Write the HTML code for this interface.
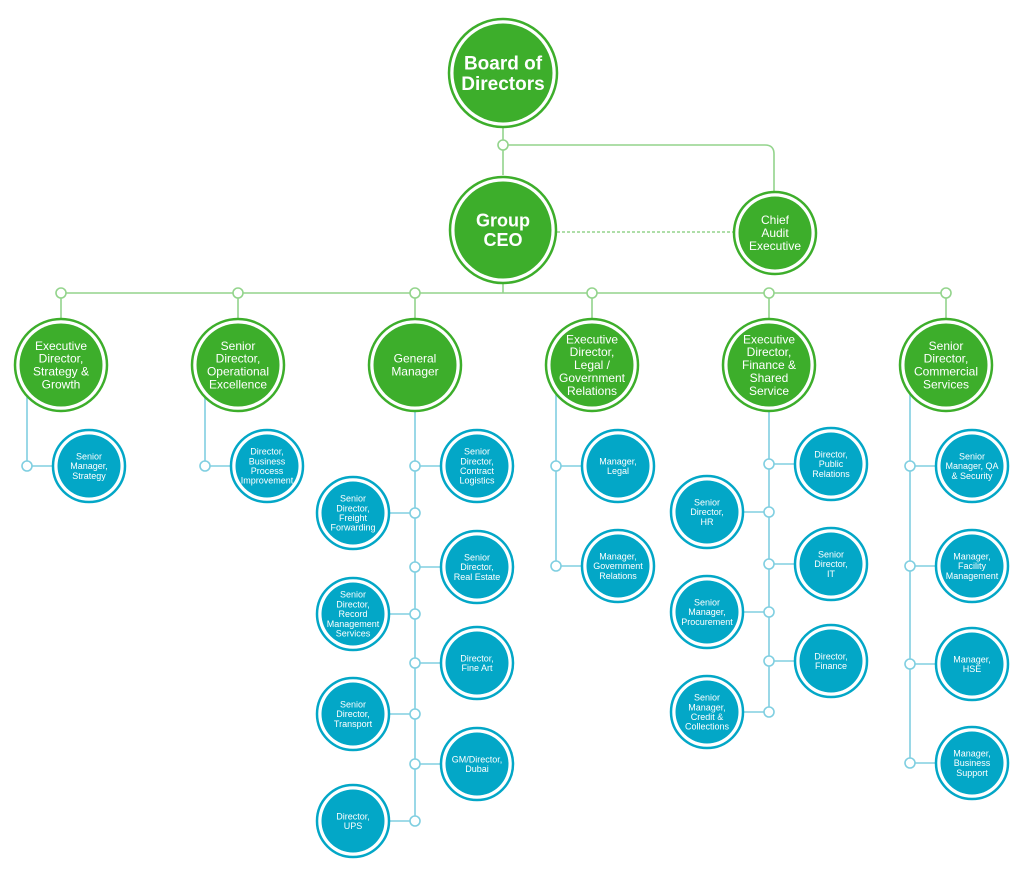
<!DOCTYPE html>
<html><head><meta charset="utf-8"><style>
html,body{margin:0;padding:0;background:#fff;}
svg{display:block;font-family:"Liberation Sans",sans-serif;}
</style></head><body>
<svg id="chart" width="1024" height="876" viewBox="0 0 1024 876"></svg>
<script>
const G='#3dae2b', B='#03a7c7', GL='#93d48c', BL='#80cfe1';
const svg=document.getElementById('chart');
const NS='http://www.w3.org/2000/svg';
function el(t,a,p){const e=document.createElementNS(NS,t);for(const k in a)e.setAttribute(k,a[k]);(p||svg).appendChild(e);return e;}
function line(d,c,dash){const e=el('path',{d:d,stroke:c,'stroke-width':1.6,fill:'none'});if(dash)e.setAttribute('stroke-dasharray','3 2');}
function dot(x,y,c){const e=el('circle',{cx:x,cy:y,r:5,fill:'#fff',stroke:c,'stroke-width':1.6});}
function node(x,y,r,col,lines,fs,name,bold){
  const g=el('g',{});
  
  
  el('circle',{cx:x,cy:y,r:r,fill:'#fff',stroke:col,'stroke-width':2.5},g);
  el('circle',{cx:x,cy:y,r:r-4.5,fill:col},g);
  const lh=fs*1.08, y0=y-(lines.length-1)*lh/2+fs*0.35;
  lines.forEach((t,i)=>{const tx=el('text',{x:x,y:y0+i*lh,'text-anchor':'middle',fill:'#fff','font-size':fs,'font-weight':bold?'bold':'normal'},g);tx.textContent=t;});
}
// top
line('M503 127 V175',GL);
line('M508 145 H765 Q774 145 774 154 V193',GL);
dot(503,145,GL);
line('M557 232 H735',GL,true);
line('M503 282 V293',GL);
line('M61 293 H946',GL);
node(503,73,54,G,['Board of','Directors'],19,'board-of-directors',true);
node(503,230,53,G,['Group','CEO'],18,'group-ceo',true);
node(775,233,41,G,['Chief','Audit','Executive'],12,'chief-audit-executive');
const cols=[61,238,415,592,769,946];
const heads=[['Executive','Director,','Strategy &','Growth'],['Senior','Director,','Operational','Excellence'],['General','Manager'],['Executive','Director,','Legal /','Government','Relations'],['Executive','Director,','Finance &','Shared','Service'],['Senior','Director,','Commercial','Services']];
const headNames=['exec-director-strategy','senior-director-operational-excellence','general-manager','exec-director-legal','exec-director-finance','senior-director-commercial'];
const kids=[
 [27,[[1,466,['Senior','Manager,','Strategy']]]],
 [205,[[1,466,['Director,','Business','Process','Improvement']]]],
 [415,[[1,466,['Senior','Director,','Contract','Logistics']],[-1,513,['Senior','Director,','Freight','Forwarding']],[1,567,['Senior','Director,','Real Estate']],[-1,614,['Senior','Director,','Record','Management','Services']],[1,663,['Director,','Fine Art']],[-1,714,['Senior','Director,','Transport']],[1,764,['GM/Director,','Dubai']],[-1,821,['Director,','UPS']]]],
 [556,[[1,466,['Manager,','Legal']],[1,566,['Manager,','Government','Relations']]]],
 [769,[[1,464,['Director,','Public','Relations']],[-1,512,['Senior','Director,','HR']],[1,564,['Senior','Director,','IT']],[-1,612,['Senior','Manager,','Procurement']],[1,661,['Director,','Finance']],[-1,712,['Senior','Manager,','Credit &','Collections']]]],
 [910,[[1,466,['Senior','Manager, QA','& Security']],[1,566,['Manager,','Facility','Management']],[1,664,['Manager,','HSE']],[1,763,['Manager,','Business','Support']]]]
];
cols.forEach((x,i)=>{
  const [lx,ch]=kids[i];
  const maxY=Math.max(...ch.map(c=>c[1]));
  line(`M${lx} 395 V${maxY-5}`,BL);
  ch.forEach(([s,y,lab])=>{
    const nx=lx+s*62;
    line(`M${lx+s*5} ${y} H${nx-s*36}`,BL);
    dot(lx,y,BL);
    node(nx,y,36,B,lab,9,'role-'+lab.join('-').toLowerCase().replace(/[^a-z]+/g,'-'));
  });
  line(`M${x} 298 V319`,GL);
  dot(x,293,GL);
  node(x,365,46,G,heads[i],12,headNames[i]);
});
</script>
</body></html>
